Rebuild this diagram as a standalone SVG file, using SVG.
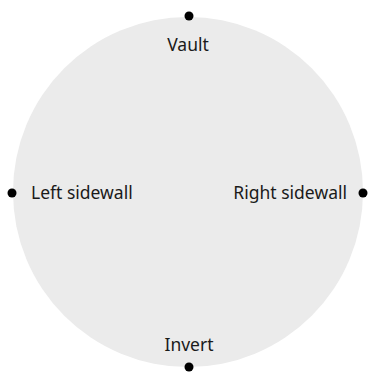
<svg xmlns="http://www.w3.org/2000/svg" width="369" height="373" viewBox="0 0 369 373">
<style>
.lbl{font-family:"Noto Sans","Liberation Sans",sans-serif;font-size:17.5px;fill:#1a1a1a}
.dot{fill:#000}
</style>
<rect width="369" height="373" fill="#fff"/>
<g id="section"><circle cx="188" cy="192" r="175" fill="#ebebeb"/></g>
<g id="vault"><circle class="dot" cx="189" cy="16" r="4.5"/><text class="lbl" x="188" y="51" text-anchor="middle">Vault</text></g>
<g id="left"><circle class="dot" cx="12" cy="193" r="4.5"/><text class="lbl" x="31" y="199">Left sidewall</text></g>
<g id="right"><circle class="dot" cx="363" cy="193" r="4.5"/><text class="lbl" x="347" y="199" text-anchor="end">Right sidewall</text></g>
<g id="invert"><circle class="dot" cx="189" cy="367" r="4.5"/><text class="lbl" x="189" y="351" text-anchor="middle">Invert</text></g>
</svg>
